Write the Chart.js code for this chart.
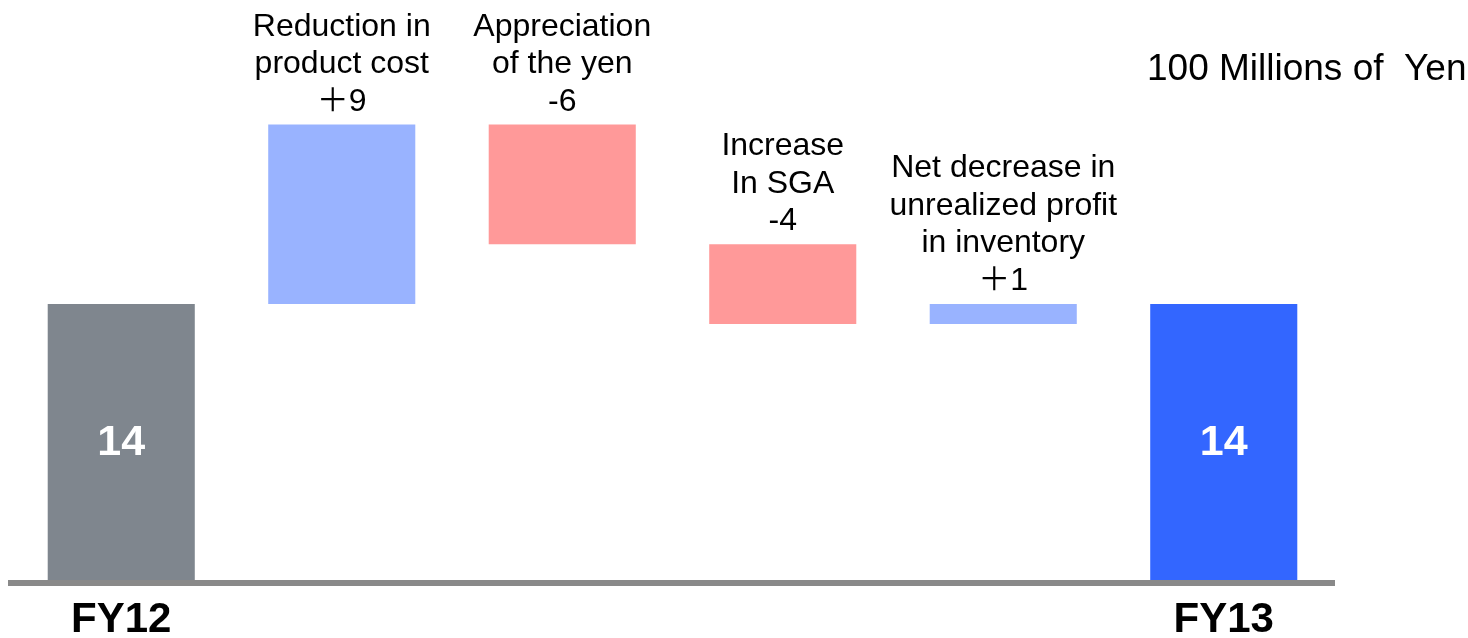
<!DOCTYPE html>
<html>
<head>
<meta charset="utf-8">
<script src="https://cdn.jsdelivr.net/npm/chart.js@4/dist/chart.umd.min.js"></script>
<style>
  html, body { margin: 0; padding: 0; background: #ffffff; }
  #wrap { width: 1468px; height: 638px; position: relative; }
</style>
</head>
<body>
<div id="wrap"><canvas id="chart"></canvas></div>
<script>
// Operating income bridge, FY12 -> FY13 (units of 100 million yen)
const tickLabels = ['FY12', '', '', '', '', 'FY13'];
const captionLines = [
  [],
  ['Reduction in', 'product cost'],
  ['Appreciation', 'of the yen'],
  ['Increase', 'In SGA'],
  ['Net decrease in', 'unrealized profit', 'in inventory'],
  []
];
const startTotal = 14;
const changes = [9, -6, -4, 1];
const endTotal = 14;
const unitLabel = '100 Millions of  Yen';

// Floating ranges for the waterfall: totals rest on zero, changes float on the running sum
const ranges = [[0, startTotal]];
let running = startTotal;
changes.forEach(d => { ranges.push([running, running + d]); running += d; });
ranges.push([0, endTotal]);
const values = [startTotal, ...changes, endTotal];

const COLORS = {
  start: '#7f868e',
  end: '#3366ff',
  up: '#99b3ff',
  down: '#ff9999',
  axis: '#898989'
};
const barColors = values.map((v, i) => {
  if (i === 0) return COLORS.start;
  if (i === values.length - 1) return COLORS.end;
  return v >= 0 ? COLORS.up : COLORS.down;
});

const FONT = "'Liberation Sans', Arial, 'Noto Sans CJK JP', sans-serif";

const labelPlugin = {
  id: 'waterfallLabels',
  afterDatasetsDraw(chart) {
    const ctx = chart.ctx;
    const meta = chart.getDatasetMeta(0);
    ctx.save();
    meta.data.forEach((bar, i) => {
      const { x, y, base } = bar.getProps(['x', 'y', 'base'], true);
      if (i === 0 || i === values.length - 1) {
        ctx.font = 'bold 43px ' + FONT;
        ctx.fillStyle = '#ffffff';
        ctx.textAlign = 'center';
        ctx.textBaseline = 'middle';
        ctx.fillText(String(values[i]), x, (y + base) / 2);
      } else {
        const d = values[i];
        const lines = captionLines[i].concat([(d > 0 ? '＋' : '-') + Math.abs(d)]);
        const top = Math.min(y, base);
        ctx.font = '32px ' + FONT;
        ctx.fillStyle = '#000000';
        ctx.textAlign = 'center';
        ctx.textBaseline = 'alphabetic';
        const lineGap = 37.5;
        lines.forEach((t, k) => {
          const baseline = top - 14 - (lines.length - 1 - k) * lineGap;
          ctx.fillText(t, x, baseline);
        });
      }
    });
    ctx.font = '37px ' + FONT;
    ctx.fillStyle = '#000000';
    ctx.textAlign = 'left';
    ctx.textBaseline = 'alphabetic';
    ctx.fillText(unitLabel, 1147, 80);
    ctx.restore();
  }
};

function draw() {
  new Chart(document.getElementById('chart'), {
    type: 'bar',
    data: {
      labels: tickLabels,
      datasets: [{
        data: ranges,
        backgroundColor: barColors,
        borderWidth: 0,
        categoryPercentage: 1,
        barPercentage: 0.667
      }]
    },
    options: {
      responsive: true,
      maintainAspectRatio: false,
      animation: false,
      layout: { padding: { left: 11, right: 134, top: 5, bottom: -19 } },
      plugins: { legend: { display: false }, tooltip: { enabled: false } },
      scales: {
        x: {
          grid: { display: false, drawTicks: false },
          border: { display: true, color: COLORS.axis, width: 6, z: 1 },
          ticks: {
            color: '#000000',
            padding: 20.6,
            autoSkip: false,
            maxRotation: 0,
            font: { family: FONT, size: 42, weight: 'bold', lineHeight: 0.78 }
          }
        },
        y: {
          display: false,
          min: 0,
          max: 29
        }
      }
    },
    plugins: [labelPlugin]
  });
}

if (document.fonts && document.fonts.load) {
  Promise.all([
    document.fonts.load("32px 'Liberation Sans'"),
    document.fonts.load("bold 42px 'Liberation Sans'"),
    document.fonts.load("32px 'Noto Sans CJK JP'", '＋')
  ]).then(draw, draw);
} else {
  draw();
}
</script>
</body>
</html>
